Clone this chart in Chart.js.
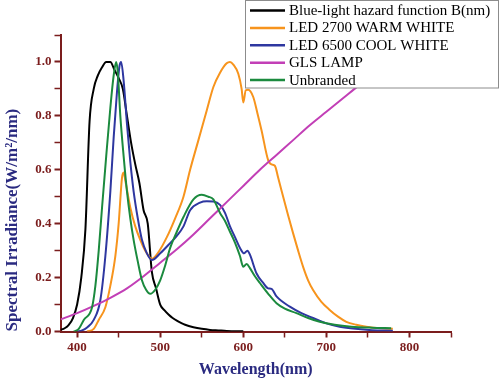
<!DOCTYPE html>
<html><head><meta charset="utf-8">
<script src="https://cdn.jsdelivr.net/npm/chart.js@4/dist/chart.umd.min.js"></script>
<style>html,body{margin:0;padding:0;background:#fff}canvas{display:block}</style>
</head><body>
<canvas id="c" width="500" height="382"></canvas>
<script>
// ---- data ----
const seriesNames = ['Blue-light hazard function B(nm)', 'LED 2700 WARM WHITE', 'LED 6500 COOL WHITE', 'GLS LAMP', 'Unbranded'];

const hazardWl  = [380,385,390,395,400,405,410,415,420,425,430,435,440,445,450,455,460,465,470,475,480,485,490,495,500,505,510,515,520,525,530,540,550,560,570,580,590,600];
const hazardVal = [0.006,0.012,0.025,0.05,0.10,0.20,0.38,0.78,0.90,0.95,0.98,1.0,1.0,0.97,0.94,0.90,0.80,0.70,0.62,0.55,0.45,0.40,0.22,0.16,0.10,0.079,0.063,0.05,0.04,0.032,0.025,0.016,0.01,0.006,0.004,0.002,0.001,0.001];

const warmWl  = [412,420,426,434,440,446,450,454,456,458,464,470,476,482,490,498,508,518,528,536,546,556,564,572,580,584,588,594,598,600,603,606,612,617,622,630,634,638,642,648,654,660,666,672,678,684,694,704,714,724,736,748,765,780];
const warmVal = [0.0,0.01,0.043,0.09,0.17,0.28,0.40,0.57,0.59,0.56,0.46,0.39,0.34,0.30,0.27,0.295,0.35,0.42,0.50,0.60,0.71,0.82,0.907,0.96,0.995,1.0,0.99,0.956,0.90,0.85,0.895,0.897,0.87,0.81,0.746,0.635,0.62,0.615,0.57,0.50,0.43,0.364,0.30,0.24,0.19,0.154,0.11,0.08,0.055,0.036,0.025,0.018,0.012,0.01];

const coolWl  = [400,406,412,420,428,434,440,444,448,451,453,456,460,464,468,473,478,484,490,500,512,520,528,536,548,556,564,572,578,584,590,596,601,605,608,616,624,630,634,640,656,670,684,700,716,735,755,780];
const coolVal = [0.0,0.004,0.015,0.043,0.117,0.28,0.52,0.72,0.89,0.985,1.0,0.93,0.77,0.63,0.52,0.42,0.34,0.29,0.265,0.29,0.328,0.355,0.39,0.45,0.478,0.483,0.482,0.47,0.44,0.39,0.35,0.31,0.29,0.30,0.285,0.215,0.18,0.16,0.158,0.13,0.092,0.068,0.05,0.03,0.018,0.01,0.005,0.003];

const glsWl  = [380,400,420,440,460,480,500,520,540,560,580,600,620,640,660,680,700,720,740,760,780];
const glsVal = [0.045,0.068,0.095,0.125,0.16,0.205,0.255,0.305,0.36,0.42,0.48,0.54,0.60,0.655,0.71,0.765,0.815,0.865,0.915,0.96,1.0];

const unbrWl  = [396,402,408,418,422,426,430,435,440,444,447,449,452,456,460,464,468,473,478,483,488,494,500,506,512,520,528,540,550,558,564,572,578,584,590,596,600,604,608,614,620,630,640,650,664,678,692,710,730,755,778];
const unbrVal = [0.0,0.01,0.043,0.09,0.17,0.30,0.46,0.65,0.83,0.95,1.0,0.96,0.80,0.65,0.52,0.42,0.34,0.26,0.19,0.155,0.14,0.155,0.19,0.245,0.31,0.37,0.425,0.49,0.507,0.50,0.49,0.44,0.41,0.37,0.33,0.28,0.24,0.25,0.235,0.205,0.18,0.14,0.105,0.085,0.068,0.05,0.036,0.025,0.018,0.014,0.012];

const xTickValues = [400,450,500,550,600,650,700,750,800,850];
const xTickLabels = ['400','','500','','600','','700','','800',''];
const yTickValues = [0,0.1,0.2,0.3,0.4,0.5,0.6,0.7,0.8,0.9,1.0,1.1];
const yTickLabels = ['0.0','','0.2','','0.4','','0.6','','0.8','','1.0',''];

// ---- styling ----
const seriesColors = ['#000000', '#f7941d', '#2e37a0', '#c23fb6', '#1b8a3e'];
const drawOrder = [5, 4, 3, 2, 1];
const AXIS = '#7b1d1d';
const TITLE = '#2a2a80';
const SERIF = '"Liberation Serif", "Times New Roman", serif';

function pts(xs, ys) { return xs.map((x, i) => ({ x: x, y: ys[i] })); }

const seriesData = [pts(hazardWl, hazardVal), pts(warmWl, warmVal), pts(coolWl, coolVal), pts(glsWl, glsVal), pts(unbrWl, unbrVal)];

const boxLegend = {
  id: 'boxLegend',
  afterDraw(chart) {
    const ctx = chart.ctx;
    ctx.save();
    const x0 = 245.5, y0 = 0.5, w = 253, h = 87.5;
    ctx.fillStyle = '#ffffff';
    ctx.fillRect(x0, y0, w, h);
    ctx.strokeStyle = '#8c8c8c';
    ctx.lineWidth = 1;
    ctx.strokeRect(x0, y0, w, h);
    ctx.font = '15px ' + SERIF;
    ctx.textBaseline = 'middle';
    ctx.textAlign = 'left';
    chart.data.datasets.forEach((ds, i) => {
      const y = 10.5 + i * 17.4;
      ctx.strokeStyle = ds.borderColor;
      ctx.lineWidth = 2.5;
      ctx.beginPath(); ctx.moveTo(250, y); ctx.lineTo(285, y); ctx.stroke();
      ctx.fillStyle = '#000';
      ctx.fillText(ds.label, 289, y + 0.5);
    });
    ctx.restore();
  }
};

const tickFont = { family: SERIF, size: 13, weight: 'bold' };
const titleFont = { family: SERIF, size: 16, weight: 'bold' };

new Chart(document.getElementById('c'), {
  type: 'line',
  data: {
    datasets: seriesNames.map((name, i) => ({
      label: name,
      data: seriesData[i],
      borderColor: seriesColors[i],
      backgroundColor: seriesColors[i],
      borderWidth: 2,
      pointRadius: 0,
      fill: false,
      cubicInterpolationMode: 'monotone',
      order: drawOrder[i]
    }))
  },
  options: {
    responsive: false,
    animation: false,
    events: [],
    layout: { padding: { top: 35, right: 49, left: 0, bottom: 0 } },
    plugins: { legend: { display: false }, tooltip: { enabled: false } },
    scales: {
      x: {
        type: 'linear', min: 380, max: 850,
        afterBuildTicks: s => { s.ticks = xTickValues.map(v => ({ value: v })); },
        afterFit: s => { s.height = 50.5; },
        ticks: { callback: (v, i) => xTickLabels[i], color: AXIS, font: tickFont, padding: 2, maxRotation: 0, autoSkip: false },
        grid: { display: true, drawOnChartArea: false, drawTicks: true, tickLength: 6, tickColor: AXIS, tickWidth: c => (xTickLabels[c.index] ? 2 : 1.5) },
        border: { display: true, color: AXIS, width: 2 },
        title: { display: true, text: 'Wavelength(nm)', color: TITLE, font: titleFont, padding: { top: 0, bottom: 3 } }
      },
      y: {
        type: 'linear', min: 0, max: 1.1,
        afterBuildTicks: s => { s.ticks = yTickValues.map(v => ({ value: v })); },
        afterFit: s => { s.width = 60.5; },
        ticks: { callback: (v, i) => yTickLabels[i], color: AXIS, font: tickFont, padding: 3, autoSkip: false },
        grid: { display: true, drawOnChartArea: false, drawTicks: true, tickLength: 6, tickColor: AXIS, tickWidth: c => (yTickLabels[c.index] ? 2 : 1.5) },
        border: { display: true, color: AXIS, width: 2 },
        title: { display: true, text: 'Spectral Irradiance(W/m\u00B2/nm)', align: 'start', color: TITLE, font: { family: SERIF, size: 17, weight: 'bold' }, padding: { top: 2, bottom: 0 } }
      }
    }
  },
  plugins: [boxLegend]
});
</script>
</body></html>
